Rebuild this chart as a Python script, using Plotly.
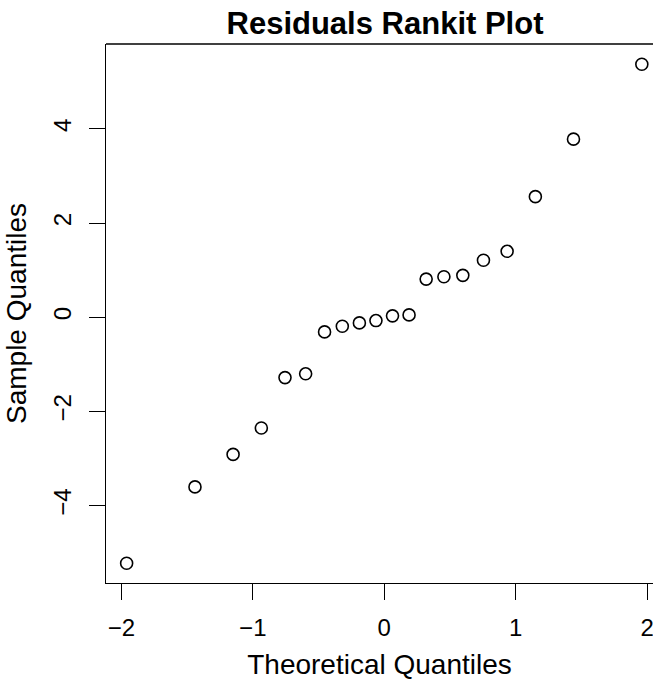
import plotly.graph_objects as go

# Theoretical normal quantiles (rankits) for n = 20
theoretical = [-1.960, -1.440, -1.150, -0.935, -0.755, -0.598, -0.454, -0.319, -0.189, -0.063,
               0.063, 0.189, 0.319, 0.454, 0.598, 0.755, 0.935, 1.150, 1.440, 1.960]
# Sample quantiles (sorted residuals)
sample = [-5.22, -3.60, -2.91, -2.35, -1.28, -1.20, -0.31, -0.19, -0.12, -0.07,
          0.03, 0.05, 0.81, 0.86, 0.89, 1.21, 1.40, 2.56, 3.78, 5.37]

x_ticks = [-2, -1, 0, 1, 2]
y_ticks = [-4, -2, 0, 2, 4]

font = "Liberation Sans, Arial, Helvetica, sans-serif"

fig = go.Figure()
fig.add_trace(go.Scatter(
    x=theoretical, y=sample, mode="markers",
    marker=dict(symbol="circle-open", size=12, color="black", line=dict(width=1.6, color="black")),
    showlegend=False, cliponaxis=False,
))

fig.update_layout(
    width=653, height=682,
    margin=dict(l=106, r=0, t=44, b=99),
    paper_bgcolor="white", plot_bgcolor="white",
    font=dict(family=font, size=23, color="black"),
    title=dict(text="<b>Residuals Rankit Plot</b>", x=385 / 653, xanchor="center",
               xref="container", yref="container", y=1 - 23 / 682, yanchor="middle",
               font=dict(family=font, size=31, color="black")),
    xaxis=dict(range=[-2.117, 2.045], tickvals=x_ticks, ticks="outside", ticklen=16,
               tickwidth=1.3, tickcolor="black", showline=True, linecolor="black", linewidth=1.3,
               showgrid=False, zeroline=False, ticklabelstandoff=7, ticklabeloverflow="allow",
               tickfont=dict(size=24),
               title=dict(text="Theoretical Quantiles", standoff=14)),
    yaxis=dict(range=[-5.64, 5.80], tickvals=y_ticks, ticks="outside", ticklen=16,
               tickwidth=1.3, tickcolor="black", showline=True, linecolor="black", linewidth=1.3,
               showgrid=False, zeroline=False, tickangle=-90, ticklabelstandoff=8,
               ticklabeloverflow="allow", tickfont=dict(size=24),
               title=dict(text="Sample Quantiles", standoff=14)),
    shapes=[dict(type="line", xref="paper", yref="paper", x0=0, x1=1, y0=1, y1=1,
                 line=dict(color="black", width=1.3))],
)

fig.write_html("out.html")
